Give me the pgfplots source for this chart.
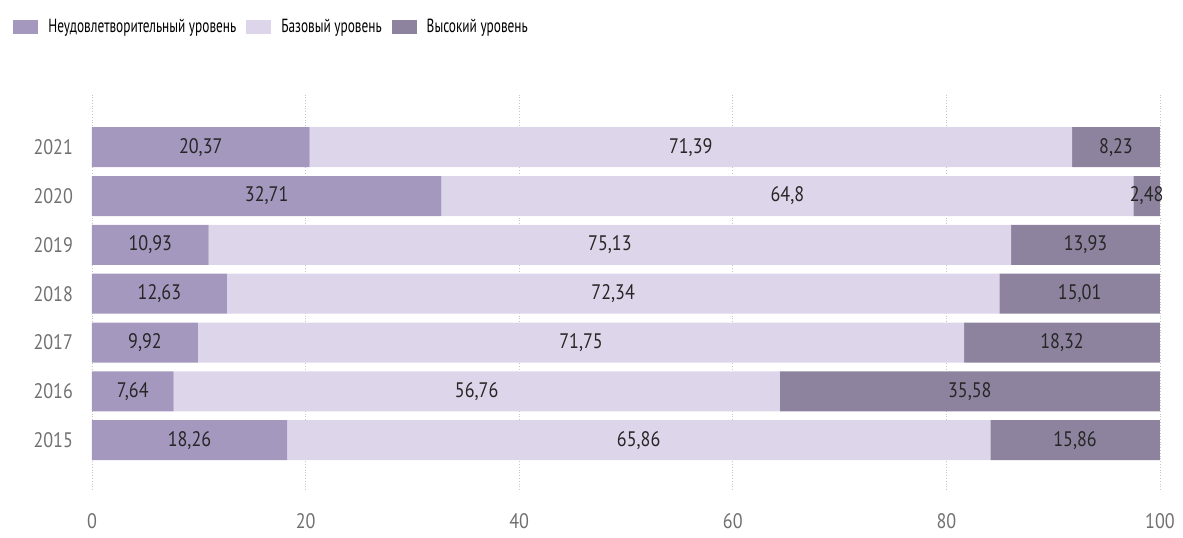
\documentclass[border=0pt]{standalone}
\usepackage{fontspec}
\setmainfont{PT Sans}[FakeStretch=0.86]
\newfontfamily\legfont{PT Sans}[FakeStretch=0.70]
\usepackage{pgfplots}
\usepackage{pgfplotstable}
\pgfplotsset{compat=1.18}

\definecolor{low}{HTML}{A598BF}
\definecolor{base}{HTML}{DDD6EA}
\definecolor{high}{HTML}{8E839E}
\definecolor{ticktxt}{HTML}{707070}

% year, Неудовлетворительный, Базовый, Высокий
\pgfplotstableread{
year a     b     c
2015 18.26 65.86 15.86
2016 7.64  56.76 35.58
2017 9.92  71.75 18.32
2018 12.63 72.34 15.01
2019 10.93 75.13 13.93
2020 32.71 64.8  2.48
2021 20.37 71.39 8.23
}\data
% label positions: middle of each segment
\pgfplotstablecreatecol[create col/expr={\thisrow{a}/2}]{ma}\data
\pgfplotstablecreatecol[create col/expr={\thisrow{a}+\thisrow{b}/2}]{mb}\data
\pgfplotstablecreatecol[create col/expr={\thisrow{a}+\thisrow{b}+\thisrow{c}/2}]{mc}\data

\pgfplotsset{
    /pgf/number format/assume math mode=true,
    common/.style={
        scale only axis,
        width=534pt,
        height=197.5pt,
        xmin=0, xmax=100,
        ymin=2013.98, ymax=2022.07,
    },
    lbl/.style={
        draw=none, mark=none, only marks,
        nodes near coords={\pgfmathprintnumber[use comma, assume math mode=true]{\pgfplotspointmeta}},
        point meta=explicit,
        every node near coord/.style={font=\fontsize{10.5}{12}\selectfont, text=black!85, anchor=center},
    },
}

\begin{document}
\begin{tikzpicture}
\begin{axis}[
    name=ax,
    common,
    xbar stacked,
    bar width=20pt,
    xtick={0,20,40,60,80,100},
    ytick={2015,2016,2017,2018,2019,2020,2021},
    yticklabel style={/pgf/number format/1000 sep={}, font=\fontsize{10.5}{12}\selectfont, text=ticktxt, xshift=-6pt},
    xticklabel style={font=\fontsize{10.5}{12}\selectfont, text=ticktxt, yshift=-8pt},
    axis line style={draw=none},
    major tick length=0pt,
    xmajorgrids,
    grid style={gray!45, densely dotted, line width=0.4pt},
    legend columns=3,
    legend style={at={(-0.0796,1.172)}, anchor=west, draw=none, fill=none,
        font=\legfont\fontsize{9.5}{11}\selectfont, column sep=3pt},
    legend image code/.code={\fill[#1] (0cm,-0.13cm) rectangle (0.44cm,0.13cm);},
]
\addplot[fill=low, draw=none] table[x=a, y=year] {\data};
\addplot[fill=base, draw=none] table[x=b, y=year] {\data};
\addplot[fill=high, draw=none] table[x=c, y=year] {\data};
\legend{Неудовлетворительный уровень, Базовый уровень, Высокий уровень}
\end{axis}
\begin{axis}[common, at={(ax.south west)}, anchor=south west, hide axis, clip=false]
\addplot[lbl] table[x=ma, y=year, meta=a] {\data};
\addplot[lbl] table[x=mb, y=year, meta=b] {\data};
\addplot[lbl] table[x=mc, y=year, meta=c] {\data};
\end{axis}
\pgfresetboundingbox
\path (ax.south west) ++(-46pt,-23.5pt) coordinate (bl);
\path (ax.north east) ++(11.5pt,47.5pt) coordinate (tr);
\path (bl) rectangle (tr);
\end{tikzpicture}
\end{document}
